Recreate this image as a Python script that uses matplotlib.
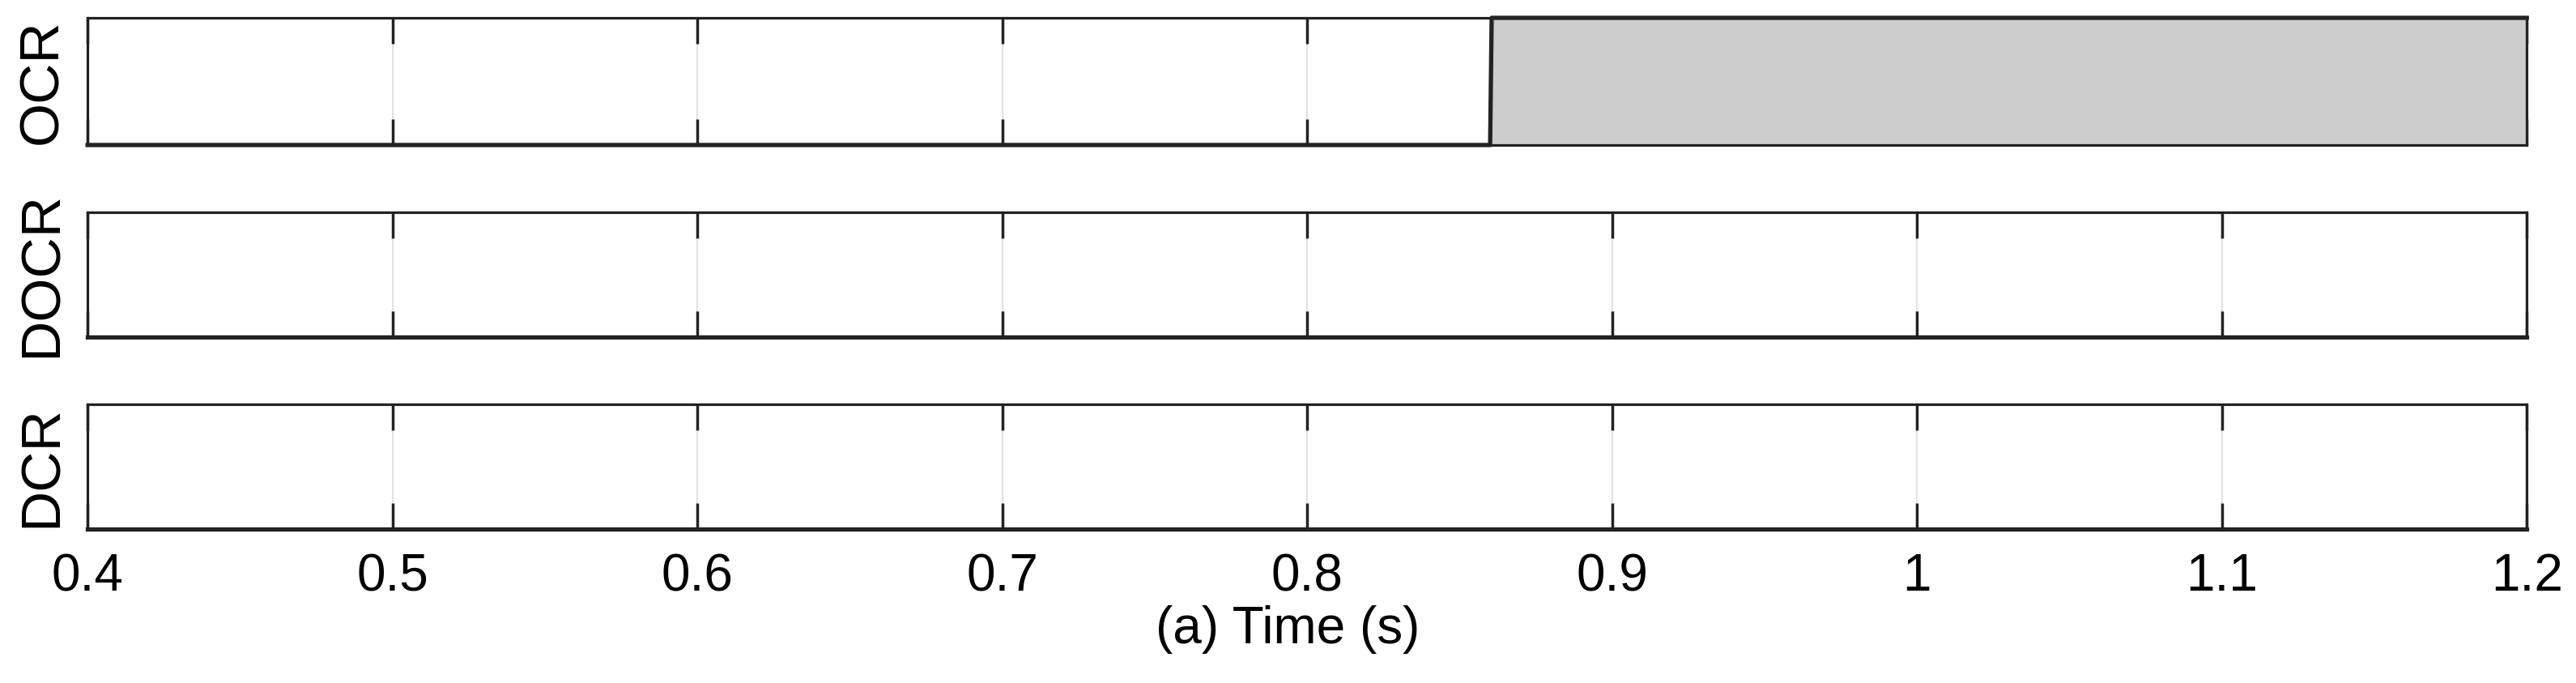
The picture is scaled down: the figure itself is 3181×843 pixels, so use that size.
import matplotlib
matplotlib.use("Agg")
import matplotlib.pyplot as plt

plt.rcParams['font.family'] = ['Liberation Sans', 'DejaVu Sans']

# relay trip signals (0 = off, 1 = tripped)
ocr_t = [0.4, 0.86, 0.8605, 1.2]
ocr_v = [0, 0, 1, 1]
docr_t = [0.4, 1.2]
docr_v = [0, 0]
dcr_t = [0.4, 1.2]
dcr_v = [0, 0]

names = ["OCR", "DOCR", "DCR"]
xticks = [0.4, 0.5, 0.6, 0.7, 0.8, 0.9, 1.0, 1.1, 1.2]
xticklabels = ["0.4", "0.5", "0.6", "0.7", "0.8", "0.9", "1", "1.1", "1.2"]

fig = plt.figure(figsize=(31.81, 8.43), dpi=100)

# axes boxes (left, bottom, width, height) in figure fraction
boxes = [
    [0.0340, 0.7877, 0.9469, 0.1862],
    [0.0340, 0.5065, 0.9469, 0.1827],
    [0.0340, 0.2254, 0.9469, 0.1827],
]
series = [(ocr_t, ocr_v), (docr_t, docr_v), (dcr_t, dcr_v)]

for i, (box, (t, v), name) in enumerate(zip(boxes, series, names)):
    ax = fig.add_axes(box)
    ax.fill_between(t, v, 0, color='#cccccc', linewidth=0, zorder=1)
    ax.plot(t, v, color='#222222', linewidth=3.8, zorder=3, clip_on=False)
    ax.set_xlim(0.4, 1.2)
    ax.set_ylim(0, 1)
    ax.set_yticks([])
    ax.set_xticks(xticks)
    ax.grid(True, axis='x', color='#e2e2e2', linewidth=1.5, zorder=0)
    ax.set_axisbelow(True)
    ax.tick_params(axis='x', direction='in', top=True, bottom=True,
                   length=23, width=2.5, color='#222222', pad=21,
                   labelsize=46)
    for s in ax.spines.values():
        s.set_linewidth(2.3)
        s.set_color('#222222')
    if i < 2:
        ax.set_xticklabels([])
    else:
        ax.set_xticklabels(xticklabels)
    ax.set_ylabel(name, fontsize=50, va='center')
    ax.yaxis.set_label_coords(-0.0186, 0.5)

fig.text(0.5, 0.078, "(a) Time (s)", ha='center', va='center', fontsize=46)

fig.savefig("out.png", dpi=100)
